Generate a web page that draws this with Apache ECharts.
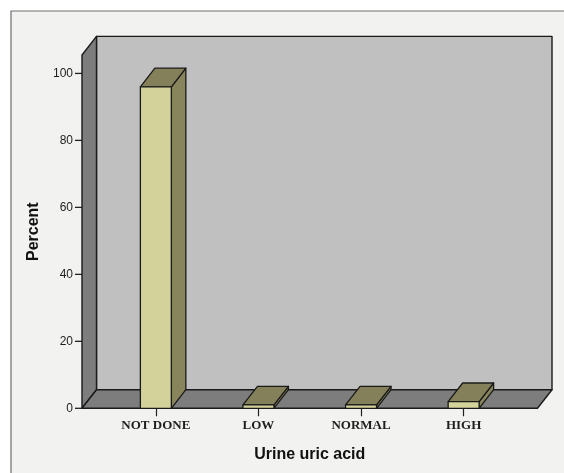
<!DOCTYPE html>
<html>
<head>
<meta charset="utf-8">
<script src="https://cdn.jsdelivr.net/npm/echarts@6/dist/echarts.min.js"></script>
<style>
  html, body { margin: 0; padding: 0; background: #ffffff; }
  #chart { width: 564px; height: 473px; }
</style>
</head>
<body>
<div id="chart"></div>
<script>
// Urine uric acid result groups and their share of patients (%)
var categories = ['NOT DONE', 'LOW', 'NORMAL', 'HIGH'];
var percents = [96.0, 1.0, 1.0, 2.0];
var yTicks = [0, 20, 40, 60, 80, 100];

// Extent of the 3D box in data units
var X_MIN = -0.72, X_MAX = 3.72, Y_MAX = 105.5;
var BAR_HALF = 0.151;           // half width of a bar, in category units
var DEPTH = [14.5, -18.6];      // oblique depth offset in pixels
var Y_TICK_LEN = 7;

var chart = echarts.init(document.getElementById('chart'), null, { renderer: 'canvas' });

var EDGE = '#1a1a1a';

function shift(p) { return [p[0] + DEPTH[0], p[1] + DEPTH[1]]; }

// Back wall, left wall, floor of the box, and the value-axis tick marks
function renderWalls(params, api) {
  var fb = api.coord([X_MIN, 0]);      // front-left-bottom
  var ft = api.coord([X_MIN, Y_MAX]);  // front-left-top
  var rb = api.coord([X_MAX, 0]);      // front-right-bottom
  var bb = shift(fb), bt = shift(ft), brb = shift(rb);
  var brt = [brb[0], bt[1]];
  var st = { stroke: EDGE, lineWidth: 1.4, lineJoin: 'round' };
  var children = [
    { type: 'polygon', shape: { points: [bt, brt, brb, bb] },
      style: Object.assign({ fill: '#c0c0c0' }, st) },
    { type: 'polygon', shape: { points: [ft, bt, bb, fb] },
      style: Object.assign({ fill: '#7d7d7d' }, st) },
    { type: 'polygon', shape: { points: [fb, bb, brb, rb] },
      style: Object.assign({ fill: '#7d7d7d' }, st) }
  ];
  yTicks.forEach(function (t) {
    var p = api.coord([X_MIN, t]);
    children.push({ type: 'line',
      shape: { x1: p[0] - Y_TICK_LEN, y1: p[1], x2: p[0], y2: p[1] },
      style: { stroke: '#222', lineWidth: 1.3 } });
  });
  return { type: 'group', children: children };
}

// One 3D bar: front face, top face and right side
function renderBar(params, api) {
  var i = api.value(0), v = api.value(1);
  var lt = api.coord([i - BAR_HALF, v]);
  var rt = api.coord([i + BAR_HALF, v]);
  var lb = api.coord([i - BAR_HALF, 0]);
  var rb = api.coord([i + BAR_HALF, 0]);
  var st = { stroke: EDGE, lineWidth: 1.3, lineJoin: 'round' };
  return {
    type: 'group',
    children: [
      { type: 'polygon', shape: { points: [rt, shift(rt), shift(rb), rb] },
        style: Object.assign({ fill: '#88855c' }, st) },
      { type: 'polygon', shape: { points: [lt, shift(lt), shift(rt), rt] },
        style: Object.assign({ fill: '#84815a' }, st) },
      { type: 'polygon', shape: { points: [lt, rt, rb, lb] },
        style: Object.assign({ fill: '#d4d29b' }, st) }
    ]
  };
}

var barData = categories.map(function (c, i) { return [i, percents[i]]; });

chart.setOption({
  backgroundColor: '#ffffff',
  animation: false,
  graphic: [{
    type: 'rect', z: -10, silent: true,
    shape: { x: 11, y: 11, width: 560, height: 470 },
    style: { fill: '#f2f2f1', stroke: '#6e6e6e', lineWidth: 1.2 }
  }],
  grid: { left: 82, right: 564 - 537.5, top: 55, bottom: 473 - 408.3, containLabel: false },
  xAxis: {
    type: 'value', min: X_MIN, max: X_MAX,
    splitLine: { show: false },
    axisLine: { show: false },
    axisTick: { show: true, customValues: [0, 1, 2, 3], length: 8,
                lineStyle: { color: '#222', width: 1.2 } },
    axisLabel: {
      customValues: [0, 1, 2, 3],
      formatter: function (v) { return categories[Math.round(v)]; },
      margin: 11, color: '#1e1e1e',
      fontFamily: '"Liberation Serif", "Times New Roman", serif',
      fontWeight: 'bold', fontSize: 13
    },
    name: 'Urine uric acid', nameLocation: 'middle', nameGap: 38,
    nameTextStyle: { fontFamily: '"Liberation Sans", Arial, sans-serif',
                     fontWeight: 'bold', fontSize: 16, color: '#111' }
  },
  yAxis: {
    type: 'value', min: 0, max: Y_MAX,
    splitLine: { show: false },
    axisLine: { show: false },
    axisTick: { show: false },
    axisLabel: {
      customValues: yTicks, margin: 9, color: '#1e1e1e',
      fontFamily: '"Liberation Sans", Arial, sans-serif', fontSize: 12
    },
    name: 'Percent', nameLocation: 'middle', nameGap: 38,
    nameTextStyle: { fontFamily: '"Liberation Sans", Arial, sans-serif',
                     fontWeight: 'bold', fontSize: 16, color: '#111' }
  },
  series: [
    { type: 'custom', name: 'walls', z: 1, silent: true,
      renderItem: renderWalls, data: [[0, 0]], clip: false },
    { type: 'custom', name: 'Percent', z: 2,
      renderItem: renderBar, data: barData, clip: false }
  ]
});
</script>
</body>
</html>
